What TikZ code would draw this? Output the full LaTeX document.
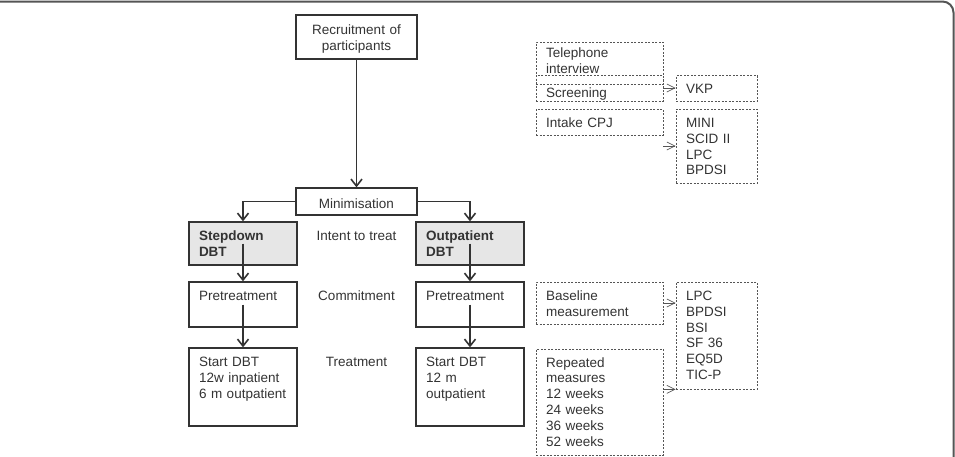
\documentclass[tikz,border=0pt]{standalone}
\usepackage{fontspec}
\setmainfont{Liberation Sans}
\usetikzlibrary{positioning,arrows.meta}
\definecolor{ink}{HTML}{333333}
\definecolor{dashgray}{HTML}{555555}
\definecolor{armfill}{HTML}{E6E6E6}
\begin{document}
\begin{tikzpicture}[x=1pt, y=-1pt,
		font=\fontsize{13.5}{15.8}\selectfont, text=ink,
		headbox/.style={draw=ink, line width=1.3pt, text width=101pt, align=center, inner xsep=10pt},
		stage/.style={draw=ink, line width=1.3pt, text width=88pt, align=left,
			inner xsep=10pt, inner ysep=8.5pt, text height=10pt},
		arm/.style={stage, fill=armfill, font=\fontsize{13.5}{15.8}\selectfont\bfseries},
		meas/.style={draw=dashgray, line width=0.7pt, dash pattern=on 2pt off 1.5pt, text width=107pt,
			align=left, inner xsep=10pt, inner ysep=8.5pt, text height=10pt},
		tool/.style={meas, text width=61pt},
		phase/.style={anchor=base},
		flow/.style={draw=ink, line width=1.6pt, -{Straight Barb[length=7pt,width=11pt]}},
		link/.style={draw=dashgray, line width=0.7pt, -{Straight Barb[length=8pt,width=8pt]}},
		edgeframe/.style={draw=dashgray, line width=2pt, rounded corners=11pt}]
	\useasboundingbox (0,0) rectangle (955,456);
	\draw[edgeframe] (0,1.5) -- (953.5,1.5) -- (953.5,470);

	\node[headbox, inner ysep=9pt, text height=10.5pt, text depth=15.5pt] (rec) at (356.5,37) {Recruitment of\\participants};
	\node[headbox, inner ysep=3pt, text height=17pt, text depth=4pt]
		[below of=rec, node distance=164.5pt] (mini) {Minimisation};
	\node[arm, text depth=16pt] (sd) at (243,243.5) {Stepdown\\DBT};
	\node[arm, text depth=16pt] [right of=sd, node distance=227pt] (op) {Outpatient\\DBT};
	\node[stage, text depth=18pt] [below of=sd, node distance=61pt] (pl) {Pretreatment};
	\node[stage, text depth=18pt] [below of=op, node distance=61pt] (pr) {Pretreatment};
	\node[stage, text depth=51pt] [below of=pl, node distance=82.5pt] (sl) {Start DBT\\12w inpatient\\6 m outpatient};
	\node[stage, text depth=51pt] [below of=pr, node distance=82.5pt] (sr) {Start DBT\\12 m\\outpatient};

	\node[phase] (itt) at (mini |- sd.base) {Intent to treat};
	\node[phase] (com) at (mini |- pl.base) {Commitment};
	\node[phase] (trt) at (mini |- sl.base) {Treatment};

	\node[meas, inner ysep=5.5pt, text depth=21pt] (tel) at (599.5,63) {Telephone\\interview};
	\node[meas, inner ysep=2pt, text height=20pt, text depth=2pt] (scr) at (599.5,88) {Screening};
	\node[meas, inner ysep=8pt, text depth=0pt] (cpj) at (599.5,122) {Intake CPJ};
	\node[tool, inner ysep=8pt, text depth=0pt] (vkp) at (716.5,88.5) {VKP};
	\node[tool, text depth=47pt] (ins) at (716.5,146) {MINI\\SCID II\\LPC\\BPDSI};
	\node[meas, text depth=15pt] (base) at (599.5,303) {Baseline\\measurement};
	\node[tool, text depth=80pt] (msr) at (716.5,335.5) {LPC\\BPDSI\\BSI\\SF 36\\EQ5D\\TIC-P};
	\node[meas, inner ysep=8pt, text depth=80pt] (rep) at (599.5,402)
		{Repeated\\measures\\12 weeks\\24 weeks\\36 weeks\\52 weeks};

	\draw[flow] (rec) -- (mini);
	\draw[flow] (mini.west) -| (sd.north);
	\draw[flow] (mini.east) -| (op.north);
	\draw[flow] (sd.center) -- (pl.north);
	\draw[flow] (op.center) -- (pr.north);
	\draw[flow] (pl.center) -- (sl.north);
	\draw[flow] (pr.center) -- (sr.north);

	\draw[link] (scr.east) -- (scr.east -| vkp.west);
	\draw[link] (cpj.east |- ins.west) -- (ins.west);
	\draw[link] (base.east) -- (base.east -| msr.west);
	\draw[link] (rep.east |- msr.south west) -- (msr.south west);
\end{tikzpicture}
\end{document}
